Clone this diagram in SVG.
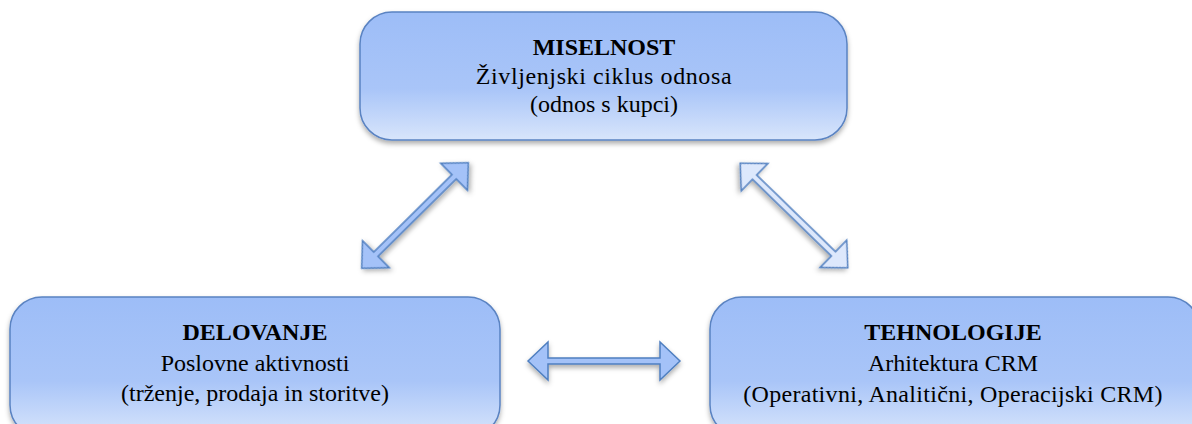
<svg xmlns="http://www.w3.org/2000/svg" width="1192" height="424" viewBox="0 0 1192 424">
<style>
.box{stroke:#5a83c2;stroke-width:1.5;filter:url(#sh)}
.arr{stroke:#4f7fc0;stroke-width:1.5;stroke-linejoin:miter;filter:url(#sh)}
.t{font-family:"Liberation Serif","Times New Roman",serif;font-size:24px;fill:#000;text-anchor:middle}
.b{font-weight:bold}
</style>
<defs>
<linearGradient id="g" x1="0" y1="0" x2="0" y2="1">
<stop offset="0" stop-color="#9dbdf7"/>
<stop offset="0.6" stop-color="#a9c5f8"/>
<stop offset="1" stop-color="#d8e5fb"/>
</linearGradient>
<filter id="sh" x="-20%" y="-20%" width="140%" height="150%">
<feDropShadow dx="0" dy="3" stdDeviation="2.5" flood-color="#000" flood-opacity="0.32"/>
</filter>
<polygon id="a" points="-76,0 -56,-19 -56,-3 56,-3 56,-19 76,0 56,19 56,3 -56,3 -56,19"/>
<polygon id="ad" points="-75,0 -55,-19 -55,-3 55,-3 55,-19 75,0 55,19 55,3 -55,3 -55,19"/>
</defs>
<g id="connectors">
<use href="#ad" class="arr" fill="#a4c2f8" transform="translate(415,215.5) rotate(-44.7)"/>
<use href="#ad" class="arr" fill="#dde8fc" transform="translate(794,215.5) rotate(44.2)"/>
<use href="#a" class="arr" fill="#a4c2f8" transform="translate(604,361)"/>
</g>
<g id="miselnost">
<rect class="box" x="360" y="12" width="487" height="128" rx="32" fill="url(#g)"/>
<text class="t b" x="604" y="55">MISELNOST</text>
<text class="t" x="604" y="84" letter-spacing="0.6">Življenjski ciklus odnosa</text>
<text class="t" x="604" y="112">(odnos s kupci)</text>
</g>
<g id="delovanje">
<rect class="box" x="10" y="297" width="490" height="140" rx="32" fill="url(#g)"/>
<text class="t b" x="255" y="340">DELOVANJE</text>
<text class="t" x="255" y="371">Poslovne aktivnosti</text>
<text class="t" x="255" y="401">(trženje, prodaja in storitve)</text>
</g>
<g id="tehnologije">
<rect class="box" x="710" y="297" width="490" height="140" rx="32" fill="url(#g)"/>
<text class="t b" x="953" y="340">TEHNOLOGIJE</text>
<text class="t" x="953" y="371">Arhitektura CRM</text>
<text class="t" x="953" y="402" letter-spacing="0.3">(Operativni, Analitični, Operacijski CRM)</text>
</g>
</svg>
